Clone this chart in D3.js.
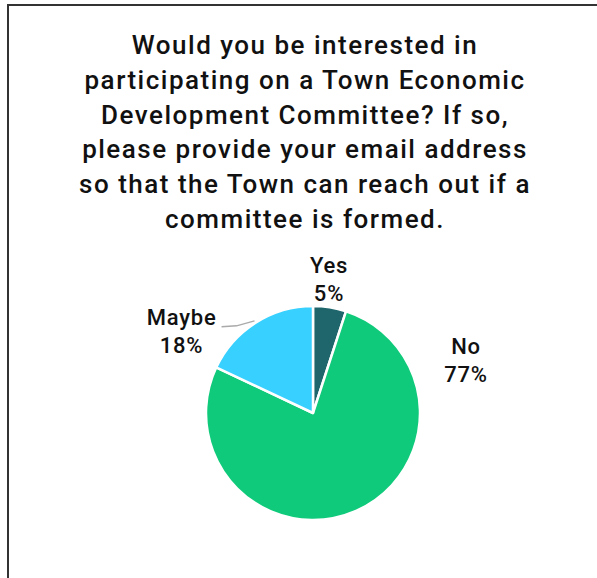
<!DOCTYPE html>
<html><head><meta charset="utf-8">
<script src="https://cdn.jsdelivr.net/npm/d3@7"></script>
<style>html,body{margin:0;padding:0;background:#fff;overflow:hidden}</style>
</head><body>
<svg id="c" width="597" height="578"></svg>
<script>
const titleLines = ["Would you be interested in","participating on a Town Economic","Development Committee? If so,","please provide your email address","so that the Town can reach out if a","committee is formed."];
const categories = ["Yes","No","Maybe"];
const values = [5,77,18];
const colors = ["#1e666c","#0fca7a","#38d0ff"];

// label layout (angle in degrees clockwise from top, radius in px)
const labelAngle = {Yes:6.8, No:70.9, Maybe:302};
const labelRadius = {Yes:135, No:161.9, Maybe:155};

const svg = d3.select("#c");
const font = "Roboto, 'DejaVu Sans', sans-serif";

svg.append("path").attr("d","M8,578V5H597").attr("fill","none").attr("stroke","#333").attr("stroke-width",2);

const t = svg.append("text").attr("font-family",font).attr("font-size",26).attr("font-weight",500)
  .attr("letter-spacing",1.5).attr("fill","#111").attr("text-anchor","middle");
titleLines.forEach((l,i)=>t.append("tspan").attr("x",305).attr("y",54+i*34.8).text(l));

const cx=313, cy=413, R=107;
const g = svg.append("g").attr("transform",`translate(${cx},${cy})`);
const data = categories.map((c,i)=>({cat:c,value:values[i],color:colors[i]}));
const pie = d3.pie().value(d=>d.value).sort(null);
const arc = d3.arc().innerRadius(0).outerRadius(R);
const arcs = pie(data);
g.selectAll("path.s").data(arcs).join("path").attr("class","s")
  .attr("d",arc).attr("fill",d=>d.data.color).attr("stroke","#fff").attr("stroke-width",2.5).attr("stroke-linejoin","round");

const total = d3.sum(values);
arcs.forEach(a=>{
  const c=a.data.cat, ang=labelAngle[c]*Math.PI/180, r=labelRadius[c];
  const x=r*Math.sin(ang), y=-r*Math.cos(ang);
  const tx=g.append("text").attr("font-family",font).attr("font-size",22).attr("font-weight",500)
    .attr("letter-spacing",0.8).attr("fill","#111").attr("text-anchor","middle");
  tx.append("tspan").attr("x",x).attr("y",y-6).text(c);
  tx.append("tspan").attr("x",x).attr("y",y+22).text(Math.round(a.data.value/total*100)+"%");
  if(c==="Maybe"){
    const mid=(a.startAngle+a.endAngle)/2;
    const ex=R*1.02*Math.sin(mid), ey=-R*1.02*Math.cos(mid);
    const sx=x+40, sy=y-4;
    g.append("polyline").attr("points",`${sx},${sy} ${sx+15},${sy-1} ${ex},${ey}`)
      .attr("fill","none").attr("stroke","#aaa").attr("stroke-width",1.5);
  }
});
</script>
</body></html>
